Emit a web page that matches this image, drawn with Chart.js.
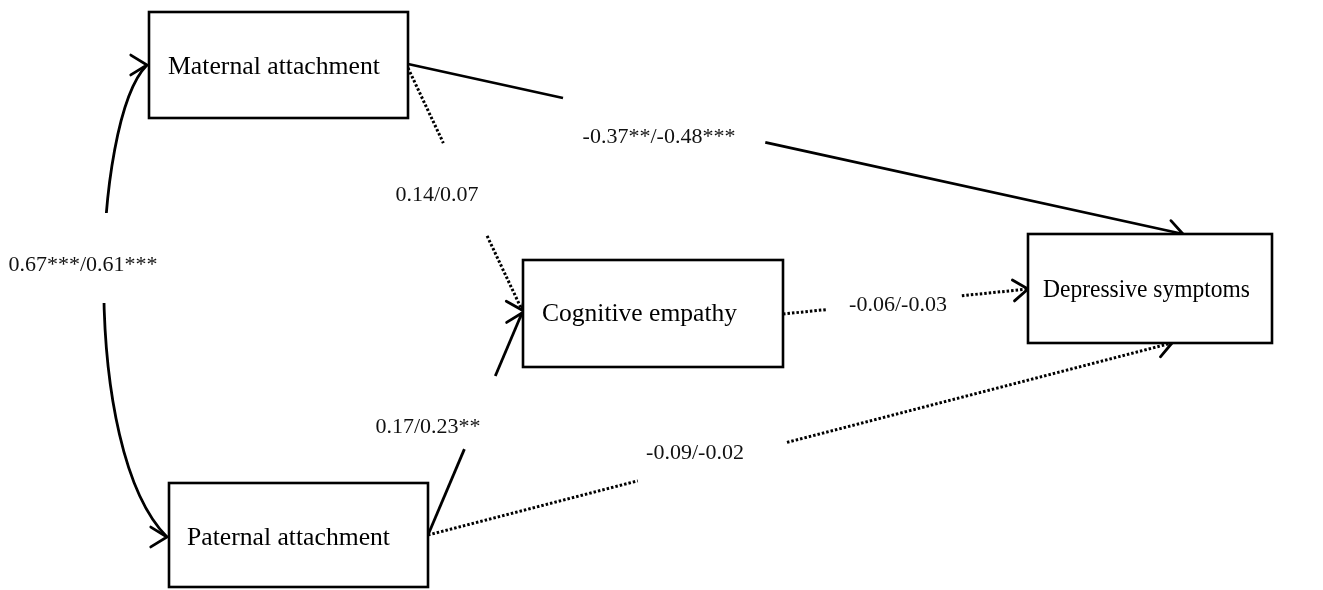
<!DOCTYPE html>
<html>
<head>
<meta charset="utf-8">
<script src="https://cdn.jsdelivr.net/npm/chart.js@4/dist/chart.umd.min.js"></script>
<style>
html,body{margin:0;padding:0;background:#fff;}
#wrap{width:1323px;height:590px;position:relative;}
</style>
</head>
<body>
<div id="wrap"><canvas id="c"></canvas></div>
<script>
// ---- Nodes (variables of the path model) ----
const nodeNames  = ['Maternal attachment', 'Paternal attachment', 'Cognitive empathy', 'Depressive symptoms'];
const nodeLeft   = [149, 169, 523, 1028];
const nodeTop    = [12, 483, 260, 234];
const nodeRight  = [408, 428, 783, 1272];
const nodeBottom = [118, 587, 367, 343];
const nodeTextX  = [168, 187, 542, 1043];
const nodeTextY  = [67, 538, 314, 290];
const nodeTextW  = [212, 203, 195, 207];

// ---- Paths (coefficients) ----
const pathLabels = ['-0.37**/-0.48***', '0.14/0.07', '0.17/0.23**', '-0.09/-0.02', '-0.06/-0.03'];
const pathDotted = [false, true, false, true, true];
const pathFromX  = [408, 408, 428, 428, 783];
const pathFromY  = [64, 68, 535, 535, 314];
const pathToX    = [1183, 522, 522, 1172, 1028];
const pathToY    = [234, 310, 313, 343, 289];
const gapStart   = [0.20, 0.31, 0.387, 0.282, 0.176];
const gapEnd     = [0.461, 0.694, 0.716, 0.4825, 0.73];
const labelX     = [659, 437, 428, 695, 898];
const labelY     = [137, 195, 427, 453, 305];

// ---- Correlation (curved double arrow) ----
const corrLabel = '0.67***/0.61***';
const corrLabelX = 83, corrLabelY = 265;
const corrCurveX = [147, 92, 80, 167];
const corrCurveY = [65, 120, 450, 537];
const corrGapY = [213, 303];

const lerp = (a, b, t) => a + (b - a) * t;

const datasets = [];
pathLabels.forEach((lab, i) => {
  const seg = (t0, t1) => [
    {x: lerp(pathFromX[i], pathToX[i], t0), y: lerp(pathFromY[i], pathToY[i], t0)},
    {x: lerp(pathFromX[i], pathToX[i], t1), y: lerp(pathFromY[i], pathToY[i], t1)}
  ];
  [[0, gapStart[i]], [gapEnd[i], 1]].forEach(([a, b]) => {
    datasets.push({
      label: lab,
      data: seg(a, b),
      showLine: true,
      pointRadius: 0,
      borderColor: '#000',
      borderWidth: pathDotted[i] ? 3 : 2.8,
      borderDash: pathDotted[i] ? [2.5, 2] : [],
      borderCapStyle: 'butt',
      fill: false
    });
  });
});

function arrow(ctx, x, y, ang, len, spread) {
  ctx.save();
  ctx.setLineDash([]);
  ctx.lineWidth = 2.8;
  ctx.strokeStyle = '#000';
  ctx.lineCap = 'round';
  ctx.beginPath();
  ctx.moveTo(x - len * Math.cos(ang - spread), y - len * Math.sin(ang - spread));
  ctx.lineTo(x, y);
  ctx.lineTo(x - len * Math.cos(ang + spread), y - len * Math.sin(ang + spread));
  ctx.stroke();
  ctx.restore();
}

const diagramPlugin = {
  id: 'diagram',
  afterDatasetsDraw(chart) {
    const ctx = chart.ctx;
    const X = v => chart.scales.x.getPixelForValue(v);
    const Y = v => chart.scales.y.getPixelForValue(v);

    // curved correlation line with a gap for its label
    ctx.save();
    ctx.beginPath();
    ctx.rect(0, 0, chart.width, Y(corrGapY[0]));
    ctx.rect(0, Y(corrGapY[1]), chart.width, chart.height - Y(corrGapY[1]));
    ctx.clip();
    ctx.beginPath();
    ctx.moveTo(X(corrCurveX[0]), Y(corrCurveY[0]));
    ctx.bezierCurveTo(X(corrCurveX[1]), Y(corrCurveY[1]), X(corrCurveX[2]), Y(corrCurveY[2]), X(corrCurveX[3]), Y(corrCurveY[3]));
    ctx.lineWidth = 2.8;
    ctx.strokeStyle = '#000';
    ctx.stroke();
    ctx.restore();
    arrow(ctx, X(corrCurveX[0]), Y(corrCurveY[0]), 0, 19, 0.55);
    arrow(ctx, X(corrCurveX[3]), Y(corrCurveY[3]), 0, 19, 0.55);

    // arrowheads of the paths
    pathLabels.forEach((lab, i) => {
      const x0 = X(pathFromX[i]), y0 = Y(pathFromY[i]);
      const x1 = X(pathToX[i]), y1 = Y(pathToY[i]);
      arrow(ctx, x1, y1, Math.atan2(y1 - y0, x1 - x0), 18, 0.62);
    });

    // boxes
    nodeNames.forEach((name, i) => {
      const l = X(nodeLeft[i]), t = Y(nodeTop[i]);
      const w = X(nodeRight[i]) - l, h = Y(nodeBottom[i]) - t;
      ctx.save();
      ctx.fillStyle = '#fff';
      ctx.fillRect(l, t, w, h);
      ctx.lineWidth = 2.6;
      ctx.strokeStyle = '#000';
      ctx.strokeRect(l, t, w, h);
      ctx.fillStyle = '#000';
      ctx.font = '26px "Liberation Serif", "Times New Roman", serif';
      ctx.textAlign = 'left';
      ctx.textBaseline = 'middle';
      ctx.fillText(name, X(nodeTextX[i]), Y(nodeTextY[i]), nodeTextW[i]);
      ctx.restore();
    });

    // coefficient labels
    ctx.save();
    ctx.fillStyle = '#111';
    ctx.font = '22px "Liberation Serif", "Times New Roman", serif';
    ctx.textAlign = 'center';
    ctx.textBaseline = 'middle';
    pathLabels.forEach((lab, i) => ctx.fillText(lab, X(labelX[i]), Y(labelY[i])));
    ctx.fillText(corrLabel, X(corrLabelX), Y(corrLabelY));
    ctx.restore();
  }
};

new Chart(document.getElementById('c'), {
  type: 'scatter',
  data: { datasets },
  options: {
    responsive: true,
    maintainAspectRatio: false,
    animation: false,
    layout: { padding: 0 },
    plugins: { legend: { display: false }, tooltip: { enabled: false } },
    scales: {
      x: { type: 'linear', min: 0, max: 1323, display: false },
      y: { type: 'linear', min: 0, max: 590, reverse: true, display: false }
    }
  },
  plugins: [diagramPlugin]
});
</script>
</body>
</html>
